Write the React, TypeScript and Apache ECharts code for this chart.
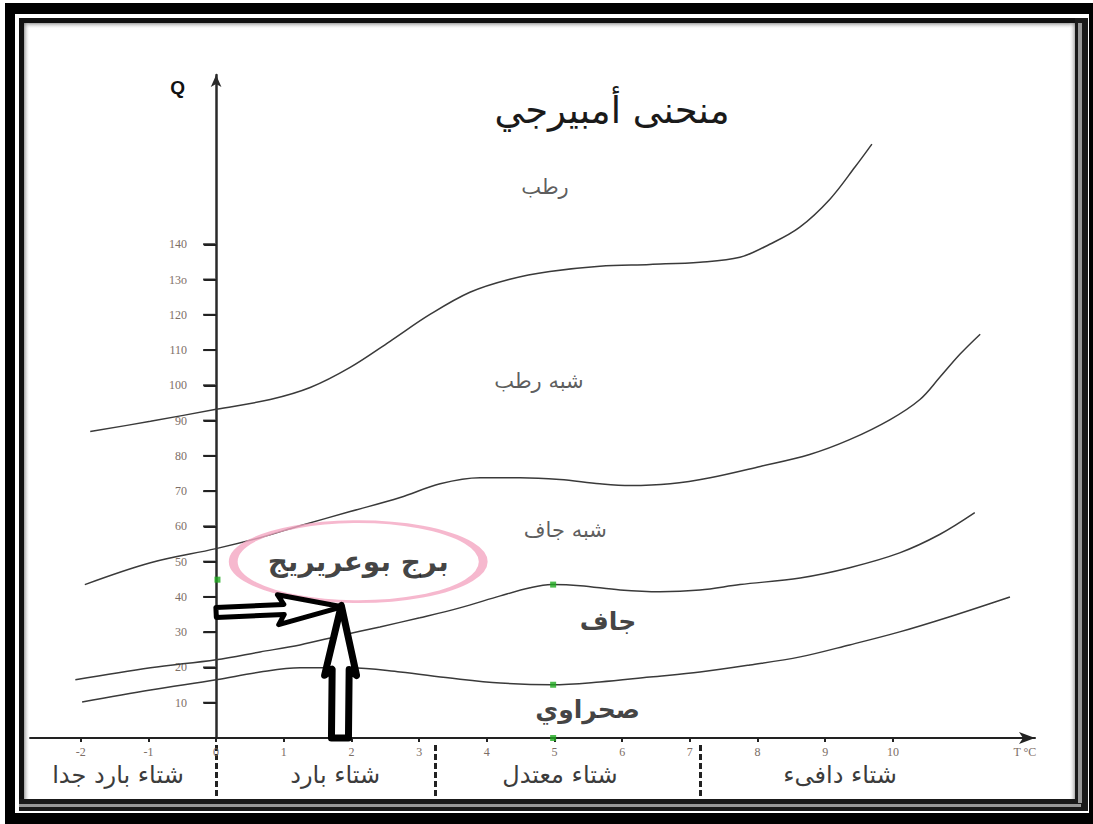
import React, { useEffect, useRef } from "react";
import * as echarts from "echarts";

// ---- data ----
const xTickValues = [-2, -1, 0, 1, 2, 3, 4, 5, 6, 7, 8, 9, 10];
const xTickLabels = ["-2", "-1", "0", "1", "2", "3", "4", "5", "6", "7", "8", "9", "10"];
const xUnitValue = 11.95;
const xUnitLabel = "T °C";

const yTickValues = [10, 20, 30, 40, 50, 60, 70, 80, 90, 100, 110, 120, 130, 140];
const yTickLabels = ["10", "20", "30", "40", "50", "60", "70", "80", "90", "100", "110", "120", "13o", "140"];

const winterBounds = [0, 3.235, 7.15];
const winterCenters = [-1.45, 1.76, 5.08, 9.22];
const winterNames = ["شتاء بارد جدا", "شتاء بارد", "شتاء معتدل", "شتاء دافىء"];

const curveHumid: [number, number][] = [
  [-1.86, 86.9], [-0.97, 89.8], [0, 93.2], [0.8, 96.0], [1.39, 99.4], [1.98, 105.1],
  [2.57, 112.5], [3.16, 120.1], [3.75, 126.4], [4.34, 130.1], [4.93, 132.3], [5.67, 133.8],
  [6.41, 134.3], [7.15, 134.9], [7.74, 136.3], [8.18, 140.0], [8.62, 144.8], [9.07, 152.8],
  [9.44, 161.9], [9.69, 168.4],
];
const curveSubHumid: [number, number][] = [
  [-1.94, 43.5], [-0.97, 49.7], [0, 53.7], [0.65, 56.8], [1.24, 60.2], [1.98, 64.2],
  [2.72, 68.2], [3.31, 72.1], [3.9, 73.8], [4.49, 73.8], [5.08, 73.3], [5.67, 72.1],
  [6.12, 71.6], [6.71, 72.1], [7.3, 73.8], [8.04, 77.0], [8.77, 80.4], [9.36, 84.6],
  [9.96, 90.3], [10.4, 96.0], [10.69, 102.2], [10.99, 108.8], [11.29, 114.5],
];
const curveSemiArid: [number, number][] = [
  [-2.08, 16.5], [-0.97, 19.9], [0, 22.2], [0.65, 24.4], [1.24, 26.4], [1.83, 29.0],
  [2.42, 31.5], [3.01, 34.1], [3.6, 36.9], [4.2, 40.3], [4.64, 42.6], [4.96, 43.5],
  [5.38, 43.2], [5.97, 42.0], [6.56, 41.5], [7.15, 42.0], [7.74, 43.5], [8.63, 45.4],
  [9.36, 48.3], [10.1, 52.5], [10.69, 57.7], [11.21, 63.9],
];
const curveArid: [number, number][] = [
  [-1.98, 10.2], [-0.97, 13.6], [0, 16.5], [0.65, 18.7], [1.24, 19.9], [1.98, 19.9],
  [2.72, 18.7], [3.46, 17.0], [4.2, 15.6], [4.96, 15.1], [5.67, 15.9], [6.41, 17.3],
  [7.15, 18.7], [7.89, 20.7], [8.63, 23.0], [9.36, 26.4], [10.1, 30.1], [10.84, 34.4],
  [11.73, 40.0],
];

const greenDots: [number, number][] = [[0.02, 44.9], [4.98, 43.5], [4.98, 15.1], [4.98, 0]];

const stationName = "برج بوعريريج";
const stationT = 2.1;
const stationQ = 50.0;

const arrowFromT = [0, 1.83];
const arrowFromQ = [35.6, 0];
const arrowToT = [1.86, 1.85];
const arrowToQ = [37.2, 37.6];

const zoneNames = ["رطب", "شبه رطب", "شبه جاف", "جاف", "صحراوي"];
const zoneT = [4.86, 4.77, 5.16, 5.79, 5.49];
const zoneQ = [156.2, 101.1, 59.1, 32.9, 8.0];

const titleText = "منحنى أمبيرجي";

// ---- layout / styles (not data) ----
const T_MIN = -2.75;
const T_MAX = 12.1;
const GRID_LEFT = 30;
const GRID_RIGHT = 58;
const PX_PER_T = (1093 - GRID_LEFT - GRID_RIGHT) / (T_MAX - T_MIN);
// labels of the Q axis stay at the grid edge; shift them next to the axis drawn on T = 0
const Y_LABEL_MARGIN = 29 - (0 - T_MIN) * PX_PER_T;

const ARABIC = "'DejaVu Sans', 'Noto Sans', sans-serif";
const SERIF = "'Liberation Serif', 'DejaVu Serif', serif";
const tickColor = "#7d6e66";
const zoneBold = [false, false, false, true, true];
const arrowShaftHalf = [5, 8.5];
const arrowHeadHalf = [15, 16];
const arrowHeadLen = [58, 64];
const arrowLineWidth = [5, 7];
const Y_TICK_LEN = 12;

function frameGraphics() {
  const r = (x: number, y: number, w: number, h: number, fill: any, z: number) => ({
    type: "rect", silent: true, z, shape: { x, y, width: w, height: h }, style: { fill },
  });
  const grad = (x2: number, y2: number) =>
    new echarts.graphic.LinearGradient(0, 0, x2, y2, [
      { offset: 0, color: "rgba(120,120,120,0.7)" },
      { offset: 1, color: "rgba(255,255,255,0)" },
    ]);
  return [
    r(0, 0, 19, 824, "#fff", 100),
    r(0, 0, 1093, 18, "#fff", 100),
    r(0, 799, 1093, 25, "#fff", 100),
    r(1075, 0, 18, 824, "#fff", 100),
    r(5, 3, 1088, 11, "#000", 101),
    r(5, 3, 10, 821, "#000", 101),
    r(5, 813, 1088, 11, "#000", 101),
    r(1089, 3, 4, 821, "#000", 101),
    r(19, 18, 1062, 5, "#111", 101),
    r(19, 18, 5, 793, "#111", 101),
    r(19, 799, 1062, 12, "#1a1a1a", 101),
    r(19, 804, 1062, 3, "#999", 102),
    r(1075, 18, 13, 793, "#1a1a1a", 101),
    r(1078, 23, 4, 780, "#999", 102),
    r(24, 23, 1051, 6, grad(0, 1), 99),
    r(24, 23, 6, 776, grad(1, 0), 99),
    r(1069, 23, 6, 776, new echarts.graphic.LinearGradient(1, 0, 0, 0, [
      { offset: 0, color: "rgba(120,120,120,0.6)" },
      { offset: 1, color: "rgba(255,255,255,0)" },
    ]), 99),
  ];
}

export default function App() {
  const ref = useRef<HTMLDivElement>(null);

  useEffect(() => {
    if (!ref.current) return;
    const chart = echarts.init(ref.current, null, { renderer: "svg" });

    const curveSeries = [curveHumid, curveSubHumid, curveSemiArid, curveArid].map((d) => ({
      type: "line",
      data: d,
      smooth: 0.35,
      showSymbol: false,
      symbol: "none",
      lineStyle: { color: "#3a3a3a", width: 1.5 },
      z: 2,
      silent: true,
    }));

    const option: any = {
      animation: false,
      backgroundColor: "#fff",
      title: {
        text: titleText,
        left: 607,
        top: 87,
        textAlign: "center",
        textStyle: { fontFamily: ARABIC, fontSize: 37, fontWeight: "normal", color: "#1a1a1a" },
      },
      grid: {
        left: GRID_LEFT, right: GRID_RIGHT, top: 75, bottom: 86,
        containLabel: false, outerBoundsMode: "none",
      },
      xAxis: [
        {
          type: "value",
          min: T_MIN,
          max: T_MAX,
          splitLine: { show: false },
          axisLine: {
            show: true,
            onZero: true,
            symbol: ["none", "arrow"],
            symbolSize: [9, 16],
            lineStyle: { color: "#222", width: 2 },
          },
          axisTick: {
            show: true,
            customValues: xTickValues,
            length: 4,
            lineStyle: { color: "#222", width: 2 },
          },
          axisLabel: {
            show: true,
            customValues: [...xTickValues, xUnitValue],
            margin: 8,
            fontSize: 12,
            fontFamily: SERIF,
            color: tickColor,
            formatter: (v: number) => {
              if (Math.abs(v - xUnitValue) < 1e-6) return xUnitLabel;
              const i = xTickValues.findIndex((t) => Math.abs(t - v) < 1e-6);
              return i >= 0 ? xTickLabels[i] : "";
            },
          },
        },
        {
          type: "value",
          min: T_MIN,
          max: T_MAX,
          position: "bottom",
          offset: 7,
          splitLine: { show: false },
          axisLine: { show: false, onZero: false },
          axisTick: {
            show: true,
            customValues: winterBounds,
            length: 55,
            lineStyle: { color: "#222", width: 3, type: [6, 3] },
          },
          axisLabel: {
            show: true,
            customValues: winterCenters,
            margin: 18,
            fontSize: 24,
            fontFamily: ARABIC,
            color: "#3c3c3c",
            formatter: (v: number) => {
              const i = winterCenters.findIndex((t) => Math.abs(t - v) < 1e-6);
              return i >= 0 ? winterNames[i] : "";
            },
          },
        },
      ],
      yAxis: {
        type: "value",
        min: 0,
        max: 188,
        name: "Q",
        nameLocation: "end",
        nameGap: -22,
        nameTextStyle: {
          fontFamily: "'Liberation Sans', Arial, sans-serif",
          fontWeight: "bold",
          fontSize: 19,
          color: "#111",
          align: "right",
          padding: [0, 31, 0, 0],
        },
        splitLine: { show: false },
        axisLine: {
          show: true,
          onZero: true,
          symbol: ["none", "arrow"],
          symbolSize: [8, 12],
          lineStyle: { color: "#2a2a2a", width: 2.5 },
        },
        axisTick: {
          show: true,
          customValues: yTickValues,
          length: Y_TICK_LEN,
          lineStyle: { color: "#222", width: 2 },
        },
        axisLabel: {
          show: true,
          customValues: yTickValues,
          margin: Y_LABEL_MARGIN,
          fontSize: 12,
          fontFamily: SERIF,
          color: tickColor,
          formatter: (v: number) => {
            const i = yTickValues.findIndex((t) => Math.abs(t - v) < 1e-6);
            return i >= 0 ? yTickLabels[i] : "";
          },
        },
      },
      series: [
        ...curveSeries,
        {
          type: "scatter",
          data: greenDots,
          symbol: "rect",
          symbolSize: 6,
          itemStyle: { color: "#1faa1f" },
          z: 4,
          silent: true,
        },
        {
          // tick marks of the Q axis, drawn on T = 0 through the axes' scales
          type: "custom",
          coordinateSystem: "cartesian2d",
          clip: false,
          silent: true,
          z: 9,
          encode: { x: [0], y: [1] },
          data: yTickValues.map((q) => [0, q]),
          renderItem: (params: any, api: any) => {
            const p = api.coord([api.value(0), api.value(1)]);
            return {
              type: "rect",
              shape: { x: p[0] - Y_TICK_LEN - 1, y: p[1] - 1, width: Y_TICK_LEN, height: 2 },
              style: { fill: "#222" },
            };
          },
        },
        {
          type: "scatter",
          data: [{ name: stationName, value: [stationT, stationQ] }],
          symbol: "circle",
          symbolSize: [250, 80],
          itemStyle: { color: "rgba(255,255,255,0)", borderColor: "#f4a6c2", borderWidth: 5 },
          label: {
            show: true,
            position: "inside",
            formatter: "{b}",
            fontFamily: ARABIC,
            fontSize: 28,
            fontWeight: "bold",
            color: "#111",
          },
          z: 5,
          silent: true,
        },
        {
          type: "custom",
          coordinateSystem: "cartesian2d",
          clip: false,
          silent: true,
          z: 6,
          encode: { x: [0, 2], y: [1, 3] },
          data: arrowFromT.map((t, i) => [t, arrowFromQ[i], arrowToT[i], arrowToQ[i]]),
          renderItem: (params: any, api: any) => {
            const i = params.dataIndex;
            const s = api.coord([api.value(0), api.value(1)]);
            const e = api.coord([api.value(2), api.value(3)]);
            const dx = e[0] - s[0];
            const dy = e[1] - s[1];
            const L = Math.sqrt(dx * dx + dy * dy) || 1;
            const ux = dx / L, uy = dy / L;
            const nx = -uy, ny = ux;
            const sh = arrowShaftHalf[i], hh = arrowHeadHalf[i], hl = arrowHeadLen[i];
            const bx = e[0] - ux * hl, by = e[1] - uy * hl;
            const pts = [
              [s[0] + nx * sh, s[1] + ny * sh],
              [bx + nx * sh, by + ny * sh],
              [bx + nx * hh - ux * 6, by + ny * hh - uy * 6],
              [e[0], e[1]],
              [bx - nx * hh - ux * 6, by - ny * hh - uy * 6],
              [bx - nx * sh, by - ny * sh],
              [s[0] - nx * sh, s[1] - ny * sh],
            ];
            return {
              type: "polygon",
              shape: { points: pts },
              style: { fill: "#fff", stroke: "#000", lineWidth: arrowLineWidth[i], lineJoin: "round" },
            };
          },
        },
        {
          type: "scatter",
          data: zoneNames.map((n, i) => ({
            name: n,
            value: [zoneT[i], zoneQ[i]],
            label: zoneBold[i]
              ? { fontSize: 25, fontWeight: "bold", color: "#111" }
              : { fontSize: 21, fontWeight: "normal", color: "#333" },
          })),
          symbolSize: 0,
          label: {
            show: true,
            position: "inside",
            formatter: "{b}",
            fontFamily: ARABIC,
          },
          z: 7,
          silent: true,
        },
      ],
      graphic: frameGraphics(),
    };

    chart.setOption(option);
    return () => chart.dispose();
  }, []);

  return (
    <div
      ref={ref}
      style={{ position: "absolute", left: 0, top: 0, width: 1093, height: 824, background: "#fff" }}
    />
  );
}
